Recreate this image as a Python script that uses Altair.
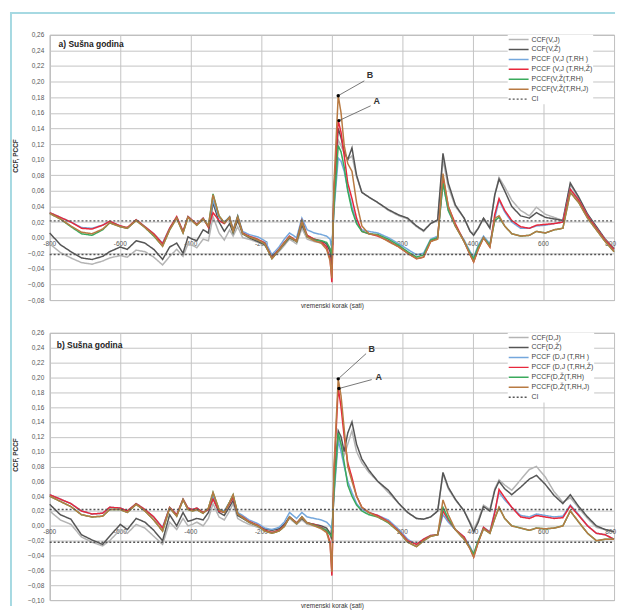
import altair as alt
import pandas as pd

# lag (hours)
LAG = [-800, -770, -740, -710, -680, -650, -630, -600, -580, -555,
       -530, -505, -480, -460, -440, -422, -408, -395, -383, -365,
       -350, -337, -320, -305, -290, -280, -267, -253, -235, -210,
       -190, -170, -150, -135, -120, -100, -85, -70, -50, -30,
       -15, -5, 0, 6, 18, 26, 35, 45, 57, 70,
       85, 105, 130, 160, 190, 215, 240, 260, 280, 300,
       315, 330, 350, 375, 392, 402, 415, 430, 448, 462,
       474, 490, 510, 535, 560, 580, 605, 630, 655, 676,
       700, 725, 750, 775, 800]

# ---- panel a (values in thousandths) ----
A_CCF_VJ = [-8, -19, -26, -32, -34, -30, -26, -23, -25, -16,
            -18, -25, -35, -24, -15, -24, -8, -10, -13, -2,
            -4, 27, 6, -3, 10, 2, 14, 0, -2, -6,
            -10, -25, -18, -10, -2, -8, 12, -2, -5, -7,
            -10, -15, -25, 50, 125, 118, 108, 100, 105, 78,
            58, 52, 45, 35, 28, 24, 14, 8, 18, 22,
            100, 65, 40, 25, 8, 5, 12, 25, 14, 55,
            77, 65, 48, 35, 28, 39, 30, 26, 22, 68,
            50, 30, 14, -2, -14]
A_CCF_VZ = [6, -9, -18, -26, -28, -24, -18, -12, -15, -4,
            -7, -15, -28, -12, -7, -20, 1, -2, -4, 10,
            6, 45, 20, 8, 18, 6, 22, 5, 0, -5,
            -9, -24, -16, -8, 0, -5, 16, 2, -2, -4,
            -8, -18, -35, 60, 140, 128, 110, 100, 115, 80,
            58, 52, 45, 36, 29, 25, 15, 9, 18, 23,
            108, 70, 42, 25, 8, 3, 12, 25, 12, 55,
            75, 60, 40, 28, 25, 32, 26, 24, 22, 70,
            52, 30, 14, -2, -14]
A_PCCF_VJ_TRH = [32, 26, 20, 13, 12, 16, 21, 15, 12, 23,
                 14, 5, -7, 12, 26, 8, 27, 22, 17, 25,
                 14, 48, 26, 20, 27, 10, 28, 8, 4, 1,
                 -4, -22, -12, -2, 6, 0, 25, 10, 6, 4,
                 2, -2, -14, 35, 102, 98, 85, 62, 40, 20,
                 10, 8, 6, 0, -8, -15, -22, -20, -2, 2,
                 70, 35, 15, -3, -18, -25, -10, 2, -8, 25,
                 48, 33, 20, 12, 12, 15, 16, 18, 20, 62,
                 48, 28, 12, -3, -15]
A_PCCF_VJ_TRHZ = [32, 26, 20, 12, 11, 16, 21, 15, 13, 23,
                  14, 5, -8, 12, 27, 8, 27, 22, 17, 25,
                  13, 32, 22, 18, 26, 9, 27, 6, 2, -2,
                  -7, -26, -15, -6, 2, -4, 22, 3, -2, -5,
                  -12, -28, -57, 60, 150, 135, 105, 70, 50, 25,
                  8, 5, 2, -4, -12, -20, -27, -25, -5, 0,
                  78, 40, 18, -5, -22, -31, -15, 0, -12, 30,
                  50, 35, 22, 14, 12, 16, 17, 18, 20, 62,
                  48, 28, 12, -3, -15]
A_PCCF_VZ_TRH = [31, 24, 14, 5, 3, 10, 19, 14, 12, 22,
                 13, 2, -11, 10, 25, 6, 26, 21, 16, 24,
                 15, 56, 28, 19, 26, 8, 27, 5, 1, -3,
                 -8, -27, -16, -7, 1, -5, 21, 1, -3, -4,
                 -6, -14, -22, 40, 118, 110, 90, 60, 35, 18,
                 8, 5, 4, -2, -10, -18, -25, -22, -3, 0,
                 70, 35, 15, -5, -20, -27, -12, 0, -10, 22,
                 26, 15, 5, 2, 3, 8, 6, 10, 12, 58,
                 45, 25, 10, -5, -18]
A_PCCF_VZ_TRHJ = [31, 24, 15, 7, 5, 11, 19, 14, 12, 22,
                  13, 3, -11, 10, 25, 6, 26, 21, 16, 24,
                  15, 55, 28, 19, 26, 8, 26, 5, 1, -3,
                  -8, -27, -16, -7, 1, -5, 20, 1, -4, -7,
                  -15, -30, -52, 70, 182, 160, 118, 95, 85, 45,
                  15, 5, 3, -5, -12, -20, -27, -25, -5, -2,
                  82, 40, 15, -5, -22, -31, -15, 0, -12, 25,
                  28, 15, 5, 2, 3, 8, 6, 10, 12, 58,
                  45, 25, 10, -5, -18]

# ---- panel b (values in thousandths) ----
B_CCF_DJ = [20, 8, 2, -15, -22, -27, -20, -5, -10, 2,
            -3, -14, -25, 5, -5, 10, 0, 2, 5, 0,
            10, 30, 12, 8, 20, 30, 10, 6, 2, -2,
            -6, -8, -6, 0, 10, 2, 8, 2, 0, -2,
            -5, -12, -20, 60, 118, 110, 95, 110, 128, 100,
            85, 72, 60, 45, 30, 18, 10, 9, 12, 20,
            70, 50, 35, 20, 5, -5, 8, 28, 22, 50,
            62, 55, 48, 62, 76, 80, 66, 46, 32, 38,
            24, 10, -2, -5, -8]
B_CCF_DZ = [29, 15, 9, -12, -19, -25, -14, 2, -5, 10,
            5, -6, -20, 15, 0, 18, 6, 8, 10, 8,
            18, 38, 18, 14, 26, 34, 14, 10, 5, 0,
            -4, -6, -4, 2, 12, 4, 10, 4, 2, 0,
            -3, -10, -18, 55, 128, 120, 100, 125, 140, 110,
            90, 75, 60, 48, 30, 18, 10, 9, 12, 20,
            72, 52, 36, 20, 3, -8, 5, 26, 20, 48,
            60, 50, 42, 52, 63, 68, 56, 41, 30, 42,
            26, 12, 0, -5, -8]
B_PCCF_DJ_TRH = [42, 36, 30, 20, 16, 17, 25, 24, 20, 30,
                 22, 12, -2, 25, 15, 36, 24, 22, 24, 18,
                 22, 40, 22, 20, 32, 40, 18, 14, 8, 3,
                 -3, -5, -2, 5, 18, 10, 18, 12, 10, 8,
                 5, 0, -5, 40, 115, 100, 80, 60, 45, 30,
                 22, 18, 14, 8, -5, -18, -25, -18, -13, -12,
                 15, 5, -5, -15, -28, -38, -20, -2, -8, 20,
                 45, 35, 25, 14, 12, 16, 14, 12, 13, 28,
                 15, 0, -10, -12, -18]
B_PCCF_DJ_TRHZ = [42, 36, 30, 20, 16, 17, 25, 24, 20, 30,
                  22, 12, -3, 25, 15, 36, 24, 22, 24, 18,
                  22, 36, 20, 18, 30, 38, 16, 12, 6, 1,
                  -6, -9, -6, 0, 12, 4, 12, 4, 2, -2,
                  -7, -22, -67, 70, 186, 160, 120, 85, 65, 40,
                  25, 18, 14, 6, -7, -20, -25, -18, -13, -12,
                  20, 8, -5, -15, -31, -42, -22, -2, -9, 18,
                  49, 38, 25, 12, 10, 14, 12, 10, 11, 27,
                  14, 0, -10, -12, -18]
B_PCCF_DZ_TRH = [40, 33, 26, 15, 12, 13, 22, 22, 18, 29,
                 20, 8, -7, 24, 13, 35, 22, 20, 22, 17,
                 24, 45, 22, 18, 32, 42, 16, 11, 5, 0,
                 -7, -10, -7, -1, 12, 3, 12, 4, 1, -3,
                 -6, -12, -14, 45, 125, 110, 85, 55, 40, 28,
                 20, 15, 12, 4, -8, -22, -28, -20, -14, -12,
                 25, 10, -5, -18, -30, -38, -20, -4, -10, 10,
                 25, 10, 0, -3, -6, -3, -4, -3, 0, 20,
                 5, -10, -20, -18, -18]
B_PCCF_DZ_TRHJ = [40, 33, 26, 15, 12, 13, 22, 22, 18, 29,
                  20, 8, -7, 24, 13, 35, 22, 20, 22, 17,
                  24, 45, 22, 18, 32, 42, 16, 11, 5, 0,
                  -7, -10, -7, -1, 12, 3, 12, 4, 0, -4,
                  -9, -25, -62, 80, 198, 175, 130, 80, 60, 40,
                  25, 18, 12, 5, -8, -22, -28, -20, -14, -12,
                  35, 15, -5, -18, -31, -42, -22, -4, -10, 10,
                  25, 10, 0, -3, -6, -3, -4, -3, 0, 20,
                  5, -10, -20, -18, -18]

NAMES_A = ["CCF(V,J)", "CCF(V,Ž)", "PCCF (V,J (T,RH )", "PCCF (V,J (T,RH,Ž)",
           "PCCF(V,Ž(T,RH)", "PCCF(V,Ž(T,RH,J)", "CI"]
NAMES_B = ["CCF(D,J)", "CCF(D,Ž)", "PCCF (D,J (T,RH )", "PCCF (D,J (T,RH,Ž)",
           "PCCF(D,Ž(T,RH)", "PCCF(D,Ž(T,RH,J)", "CI"]

CI_A = [0.0215, -0.0215]
CI_B = [0.022, -0.022]

X_TICKS = [-800, -600, -400, -200, 0, 200, 400, 600, 800]
X_LABELS = ["-800", "-600", "-400", "-200", "0", "200", "400", "600", "800"]
Y_TICKS_A = [-0.08, -0.06, -0.04, -0.02, 0.0, 0.02, 0.04, 0.06, 0.08, 0.10,
             0.12, 0.14, 0.16, 0.18, 0.20, 0.22, 0.24, 0.26]
Y_TICKS_B = [-0.10, -0.08, -0.06, -0.04, -0.02, 0.0, 0.02, 0.04, 0.06, 0.08, 0.10,
             0.12, 0.14, 0.16, 0.18, 0.20, 0.22, 0.24, 0.26]

# annotations: label, dot (lag, value), line end, text position
ANN_A_TEXT = ["B", "A"]
ANN_A_DOT_LAG = [18, 20]
ANN_A_DOT_V = [0.182, 0.150]
ANN_A_END_LAG = [92, 110]
ANN_A_END_V = [0.201, 0.169]
ANN_A_TXT_LAG = [108, 127]
ANN_A_TXT_V = [0.209, 0.175]

ANN_B_TEXT = ["B", "A"]
ANN_B_DOT_LAG = [18, 20]
ANN_B_DOT_V = [0.198, 0.185]
ANN_B_END_LAG = [97, 113]
ANN_B_END_V = [0.232, 0.197]
ANN_B_TXT_LAG = [113, 133]
ANN_B_TXT_V = [0.238, 0.201]

COLORS = ["#b4b4b4", "#555555", "#74a7dc", "#e8283c", "#3aaa5c", "#b87a42", "#555555"]
DASHES = [[1, 0], [1, 0], [1, 0], [1, 0], [1, 0], [1, 0], [2, 2]]
FONT = "Liberation Sans"
W = 568


def panel(names, series, ci, ymin, ymax, yticks, h, title, tpos, ann, border):
    rows = []
    for name, vals in zip(names[:6], series):
        for lag, v in zip(LAG, vals):
            rows.append({"lag": lag, "v": v / 1000.0, "s": name, "g": name})
    for k, c in enumerate(ci):
        for lag in (-800, 800):
            rows.append({"lag": lag, "v": c, "s": "CI", "g": "CI%d" % k})
    df = pd.DataFrame(rows)

    x = alt.X("lag:Q", scale=alt.Scale(domain=[-800, 800], nice=False, zero=False),
              axis=alt.Axis(values=X_TICKS, labels=False, ticks=False, domain=False,
                            title="vremenski korak (sati)", titleFontSize=6.5,
                            titleFontWeight="normal", titleColor="#333", titlePadding=2))
    y = alt.Y("v:Q", scale=alt.Scale(domain=[ymin, ymax], nice=False, zero=False),
              axis=alt.Axis(values=yticks,
                            labelExpr="replace(format(datum.value, '.2f'), '.', ',')",
                            labelFontSize=6.5, labelColor="#555", ticks=False, domain=False,
                            labelPadding=6, labelOverlap=False, title="CCF, PCCF",
                            titleFontSize=6.5, titleFontWeight="bold", titleColor="#333",
                            titleX=-34, titleY=h / 2 - 12, titleAngle=-90, titleAlign="center",
                            titleBaseline="middle"))
    legend = alt.Legend(title=None, orient="none", legendX=461, legendY=0,
                        symbolType="stroke", symbolSize=400, symbolStrokeWidth=1.5,
                        labelFontSize=7, labelColor="#444", fillColor="white", padding=0,
                        clipHeight=9.5, rowPadding=0, labelOffset=2, labelFont=FONT)

    tick_df = pd.DataFrame({"lag": X_TICKS[:-1], "v": [0.0] * (len(X_TICKS) - 1),
                            "t": X_LABELS[:-1]})
    ticks = alt.Chart(tick_df).mark_text(fontSize=6.5, color="#555", dy=6, font=FONT).encode(
        x=x, y=y, text="t:N")
    last_df = pd.DataFrame({"lag": X_TICKS[-1:], "v": [0.0], "t": X_LABELS[-1:]})
    last = alt.Chart(last_df).mark_text(fontSize=6.5, color="#555", dy=6, dx=2, align="right",
                                        font=FONT).encode(x=x, y=y, text="t:N")

    lines = alt.Chart(df).mark_line(strokeWidth=1.5).encode(
        x=x, y=y,
        color=alt.Color("s:N", scale=alt.Scale(domain=names, range=COLORS), legend=legend),
        strokeDash=alt.StrokeDash("s:N", scale=alt.Scale(domain=names, range=DASHES), legend=legend),
        detail="g:N")

    adf = pd.DataFrame({"t": ann[0], "lag": ann[1], "v": ann[2], "lag2": ann[3], "v2": ann[4]})
    ldf = pd.DataFrame({"t": ann[0], "lag": ann[5], "v": ann[6]})
    rules = alt.Chart(adf).mark_rule(color="#555", strokeWidth=0.8).encode(
        x=x, y=y, x2="lag2:Q", y2="v2:Q")
    dots = alt.Chart(adf).mark_point(filled=True, color="black", size=12, opacity=1).encode(
        x=x, y=y)
    labs = alt.Chart(ldf).mark_text(fontSize=9, fontWeight="bold", color="#333", font=FONT).encode(
        x=x, y=y, text="t:N")

    tdf = pd.DataFrame({"lag": [tpos[0]], "v": [tpos[1]], "t": [title]})
    ttl = alt.Chart(tdf).mark_text(align="left", fontSize=8.5, fontWeight="bold", color="#222",
                                   font=FONT).encode(x=x, y=y, text="t:N")

    layers = [ticks, last, lines, rules, dots, labs, ttl]
    if border:
        one = pd.DataFrame({"k": [0]})
        bl = alt.Chart(one).mark_rule(color="#a6d9e2", strokeWidth=2).encode(
            x=alt.value(-39), y=alt.value(-23), y2=alt.value(575))
        bt = alt.Chart(one).mark_rule(color="#a6d9e2", strokeWidth=2).encode(
            x=alt.value(-40), x2=alt.value(W + 1), y=alt.value(-22))
        layers = [bl, bt] + layers
    return alt.layer(*layers).properties(width=W, height=h)


pa = panel(NAMES_A, [A_CCF_VJ, A_CCF_VZ, A_PCCF_VJ_TRH, A_PCCF_VJ_TRHZ, A_PCCF_VZ_TRH, A_PCCF_VZ_TRHJ],
           CI_A, -0.08, 0.26, Y_TICKS_A, 267, "a) Sušna godina", (-775, 0.248),
           (ANN_A_TEXT, ANN_A_DOT_LAG, ANN_A_DOT_V, ANN_A_END_LAG, ANN_A_END_V, ANN_A_TXT_LAG, ANN_A_TXT_V),
           True)
pb = panel(NAMES_B, [B_CCF_DJ, B_CCF_DZ, B_PCCF_DJ_TRH, B_PCCF_DJ_TRHZ, B_PCCF_DZ_TRH, B_PCCF_DZ_TRHJ],
           CI_B, -0.10, 0.26, Y_TICKS_B, 269, "b) Sušna godina", (-780, 0.243),
           (ANN_B_TEXT, ANN_B_DOT_LAG, ANN_B_DOT_V, ANN_B_END_LAG, ANN_B_END_V, ANN_B_TXT_LAG, ANN_B_TXT_V),
           False)

chart = alt.VConcatChart(vconcat=[pa, pb], spacing=33, bounds="flush", padding=0)
chart = chart.resolve_scale(color="independent", strokeDash="independent", x="independent", y="independent")
chart = chart.configure(font=FONT).configure_view(stroke="#9a9a9a", strokeWidth=1).configure_axis(
    gridColor="#c4c4c4", gridWidth=1, gridOpacity=1, labelFont=FONT, titleFont=FONT)

chart.save("out.html", embed_options={"renderer": "svg", "actions": False})
